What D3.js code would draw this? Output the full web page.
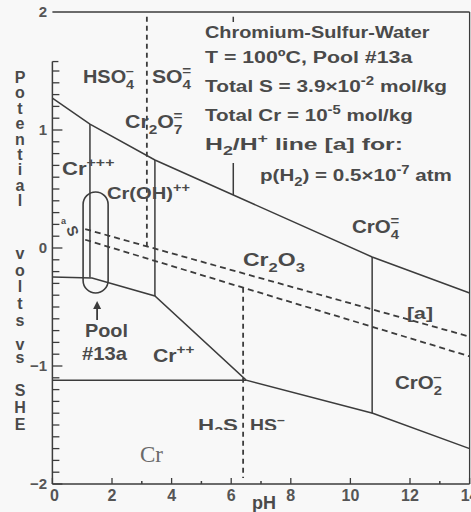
<!DOCTYPE html>
<html><head><meta charset="utf-8">
<script src="https://cdn.jsdelivr.net/npm/d3@7"></script>
<style>html,body{margin:0;padding:0;background:#f8f8f8;}svg{display:block;}</style>
</head><body>
<svg id="c" width="471" height="512"></svg>
<script>
// ---------- data ----------
const pHTicks = [0, 2, 4, 6, 8, 10, 12, 14];
const pHMinorTicks = [3, 5, 7, 13];
const ETicks = [2, 1, 0, -1, -2];
const ETickLabels = ["2", "1", "0", "\u22121", "\u22122"];
// solid phase boundaries [pH, E]
const upperBoundary = [[0, 1.27], [1.26, 1.05], [3.44, 0.746], [10.73, -0.076], [14, -0.381]];
const lowerBoundary = [[0, -0.246], [1.33, -0.254], [3.44, -0.407], [6.5, -1.12], [10.75, -1.40], [14, -1.70]];
const metalBoundary = [[0, -1.12], [6.5, -1.12]];
const verticalBoundaries = [
  {pH: 1.26, top: 1.05, bottom: -0.25},
  {pH: 3.44, top: 0.746, bottom: -0.407},
  {pH: 10.73, top: -0.076, bottom: -1.40},
  {pH: 6.07, top: 1.96, bottom: 0.449}
];
// dashed lines
const lineA = [[1.1, 0.16], [14, -0.751]];
const lineS = [[1.1, 0.07], [14, -0.918]];
const sulfurVerticals = [
  {pH: 3.17, top: 1.96, bottom: -0.017},
  {pH: 6.40, top: -0.336, bottom: -1.95}
];
const pool = {pHmin: 1.03, pHmax: 1.87, Emax: 0.475, Emin: -0.381};
const poolArrow = {pH: 1.5, tip: -0.45, tail: -0.61};
const yTitleWords = ["Potential", "volts", "vs", "SHE"];
const infoLines = [
  [["Chromium-Sulfur-Water", "n"]],
  [["T = 100\u00BAC,  Pool #13a", "n"]],
  [["Total S = 3.9\u00D710", "n"], ["-2", "sup"], [" mol/kg", "n"]],
  [["Total Cr = 10", "n"], ["-5", "sup"], [" mol/kg", "n"]],
  [["H", "n"], ["2", "sub"], ["/H", "n"], ["+", "sup"], [" line [a] for:", "n"]],
  [["p(H", "n"], ["2", "sub"], [") = 0.5\u00D710", "n"], ["-7", "sup"], [" atm", "n"]]
];

// ---------- drawing ----------
const svg = d3.select("#c");
const x = d3.scaleLinear().domain([0, 14]).range([52.4, 469.6]);
const y = d3.scaleLinear().domain([-2, 2]).range([484, 12]);
const INK = "#3c3c3c", TXT = "#4a4a4a", BG = "#f8f8f8";
const FONT = "'Liberation Sans',Arial,Helvetica,sans-serif";
const line = d3.line().x(d => x(d[0])).y(d => y(d[1]));

svg.append("rect").attr("width", 471).attr("height", 512).attr("fill", BG);
svg.append("defs").append("clipPath").attr("id", "cutS")
  .append("rect").attr("x", 190).attr("y", 400).attr("width", 110).attr("height", 30);

// frame: top and right
svg.append("line").attr("x1", x(0)).attr("x2", x(14)).attr("y1", y(2)).attr("y2", y(2))
  .attr("stroke", INK).attr("stroke-width", 1.3);
svg.append("line").attr("x1", x(14)).attr("x2", x(14)).attr("y1", y(2)).attr("y2", y(-2))
  .attr("stroke", INK).attr("stroke-width", 1.3);

// solid boundaries
[upperBoundary, lowerBoundary, metalBoundary].forEach(b =>
  svg.append("path").attr("d", line(b)).attr("fill", "none").attr("stroke", INK).attr("stroke-width", 1.5));
verticalBoundaries.forEach(v =>
  svg.append("line").attr("x1", x(v.pH)).attr("x2", x(v.pH)).attr("y1", y(v.top)).attr("y2", y(v.bottom))
    .attr("stroke", INK).attr("stroke-width", 1.5));

// dashed lines
[lineA, lineS].forEach(b =>
  svg.append("path").attr("d", line(b)).attr("fill", "none").attr("stroke", INK)
    .attr("stroke-width", 1.8).attr("stroke-dasharray", "6,4"));
sulfurVerticals.forEach(v =>
  svg.append("line").attr("x1", x(v.pH)).attr("x2", x(v.pH)).attr("y1", y(v.top)).attr("y2", y(v.bottom))
    .attr("stroke", INK).attr("stroke-width", 1.8).attr("stroke-dasharray", "5,4"));

// text box mask
svg.append("rect").attr("x", 196).attr("y", 22).attr("width", 270).attr("height", 141).attr("fill", BG);

// pool capsule
const pw = x(pool.pHmax) - x(pool.pHmin);
svg.append("rect").attr("x", x(pool.pHmin)).attr("y", y(pool.Emax))
  .attr("width", pw).attr("height", y(pool.Emin) - y(pool.Emax))
  .attr("rx", pw / 2).attr("ry", pw / 2)
  .attr("fill", "none").attr("stroke", INK).attr("stroke-width", 1.6);
svg.append("line").attr("x1", x(poolArrow.pH)).attr("x2", x(poolArrow.pH))
  .attr("y1", y(poolArrow.tail)).attr("y2", y(poolArrow.tip) + 5)
  .attr("stroke", INK).attr("stroke-width", 1.8);
svg.append("path").attr("d", d3.line()([[x(poolArrow.pH) - 4, y(poolArrow.tip) + 8], [x(poolArrow.pH), y(poolArrow.tip)], [x(poolArrow.pH) + 4, y(poolArrow.tip) + 8]]) + "Z")
  .attr("fill", INK);

// left axis
svg.append("line").attr("x1", x(0)).attr("x2", x(0)).attr("y1", y(1.58)).attr("y2", y(-2))
  .attr("stroke", INK).attr("stroke-width", 1.5);
svg.append("line").attr("x1", x(0)).attr("x2", x(0) + 6).attr("y1", y(1.58)).attr("y2", y(1.58))
  .attr("stroke", INK).attr("stroke-width", 1.3);
const minorE = d3.range(15, -21, -1).map(v => v / 10);
svg.append("g").selectAll("line").data(minorE).join("line")
  .attr("x1", x(0)).attr("x2", d => x(0) + (Math.abs(d - Math.round(d)) < 1e-6 ? 10 : 7))
  .attr("y1", d => y(d)).attr("y2", d => y(d)).attr("stroke", INK).attr("stroke-width", 1.3);
svg.append("g").selectAll("text").data(ETicks).join("text")
  .attr("x", 47).attr("y", d => y(d) + 5).attr("text-anchor", "end")
  .attr("font-family", FONT).attr("font-weight", "bold").attr("font-size", 15).attr("fill", "#555")
  .text((d, i) => ETickLabels[i]);

// bottom axis
svg.append("line").attr("x1", x(0)).attr("x2", x(14)).attr("y1", y(-2)).attr("y2", y(-2))
  .attr("stroke", INK).attr("stroke-width", 1.3);
svg.append("g").selectAll("line").data(pHTicks).join("line")
  .attr("x1", d => x(d)).attr("x2", d => x(d)).attr("y1", y(-2)).attr("y2", y(-2) - 6)
  .attr("stroke", INK).attr("stroke-width", 1.3);
svg.append("g").selectAll("line").data(pHMinorTicks).join("line")
  .attr("x1", d => x(d)).attr("x2", d => x(d)).attr("y1", y(-2)).attr("y2", y(-2) - 3)
  .attr("stroke", INK).attr("stroke-width", 1.5);
svg.append("g").selectAll("text").data(pHTicks).join("text")
  .attr("x", d => x(d) + (d === 0 ? 2 : 0)).attr("y", y(-2) + 17).attr("text-anchor", "middle")
  .attr("font-family", FONT).attr("font-weight", "bold").attr("font-size", 16).attr("fill", "#555")
  .text(d => d);
svg.append("text").attr("x", 264).attr("y", 509).attr("text-anchor", "middle")
  .attr("font-family", FONT).attr("font-weight", "bold").attr("font-size", 18).attr("fill", TXT).text("pH");

// y title stacked letters
const wordLayout = [{start: 83, step: 15.4}, {start: 259, step: 16.7}, {start: 350, step: 13}, {start: 396, step: 17}];
yTitleWords.forEach((w, wi) => {
  w.split("").forEach((ch, ci) => {
    svg.append("text").attr("x", 20).attr("y", wordLayout[wi].start + ci * wordLayout[wi].step)
      .attr("text-anchor", "middle").attr("font-family", FONT).attr("font-weight", "bold")
      .attr("font-size", 16).attr("fill", TXT).text(ch);
  });
});

// rich text helper
function rich(px, py, parts, fs, opts = {}) {
  const t = svg.append("text").attr("x", px).attr("y", py).attr("font-size", fs)
    .attr("font-family", opts.family || FONT).attr("font-weight", opts.weight || "bold")
    .attr("fill", opts.fill || TXT).attr("text-anchor", opts.anchor || "start");
  let cur = 0;
  parts.forEach(([s, k]) => {
    const small = fs * 0.72;
    let off = 0;
    if (k === "sub") off = fs * 0.32;
    if (k === "sup" || k === "supstack") off = -fs * 0.42;
    const ts = t.append("tspan").attr("dy", off - cur).text(s);
    if (k !== "n") ts.attr("font-size", small);
    if (k === "supstack") ts.attr("dx", -small * 0.58);
    cur = off;
  });
  if (opts.width) {
    const bw = t.node().getBBox().width;
    const sx = opts.width / bw;
    t.attr("transform", `translate(${px},0) scale(${sx},1) translate(${-px},0)`);
  }
  return t;
}

// info block
const infoX = [205, 205, 205, 205, 205, 260];
const infoY = [38, 63, 92, 121, 150, 181];
const infoW = [225, 208, 242, 208, 198, 192];
infoLines.forEach((parts, i) => rich(infoX[i], infoY[i], parts, 17, {width: infoW[i]}));

// region labels
rich(83, 83, [["HSO", "n"], ["4", "sub"], ["\u2013", "supstack"]], 18, {width: 52});
rich(152, 83, [["SO", "n"], ["4", "sub"], ["=", "supstack"]], 18, {width: 40});
rich(125, 128, [["Cr", "n"], ["2", "sub"], ["O", "n"], ["7", "sub"], ["=", "supstack"]], 18, {width: 58});
rich(62, 175, [["Cr", "n"], ["+++", "sup"]], 18, {width: 53});
rich(107, 199, [["Cr(OH)", "n"], ["++", "sup"]], 17, {width: 83});
rich(352, 233, [["CrO", "n"], ["4", "sub"], ["=", "supstack"]], 18, {width: 48});
rich(243, 266, [["Cr", "n"], ["2", "sub"], ["O", "n"], ["3", "sub"]], 18, {width: 62});
rich(395, 389, [["CrO", "n"], ["2", "sub"], ["\u2013", "supstack"]], 18, {width: 47});
rich(153, 362, [["Cr", "n"], ["++", "sup"]], 18, {width: 42});
rich(198, 431, [["H", "n"], ["2", "sub"], ["S", "n"]], 17, {width: 40}).attr("clip-path", "url(#cutS)");
rich(250, 431, [["HS", "n"], ["\u2013", "sup"]], 17, {width: 35}).attr("clip-path", "url(#cutS)");
rich(407, 319, [["[a]", "n"]], 16, {width: 26});
rich(85, 337, [["Pool", "n"]], 18, {width: 43});
rich(82, 360, [["#13a", "n"]], 18, {width: 46});
rich(140, 462, [["Cr", "n"]], 23, {family: "'Liberation Serif','Times New Roman',serif", weight: "normal", fill: "#6a6a6a"});
// small labels of dashed lines
svg.append("text").attr("x", 61).attr("y", 224).attr("font-family", FONT).attr("font-weight", "bold")
  .attr("font-size", 9).attr("fill", TXT).text("a");
svg.append("text").attr("transform", "translate(66,228) rotate(70)").attr("font-family", FONT)
  .attr("font-weight", "bold").attr("font-size", 15).attr("fill", TXT).text("S");
</script>
</body></html>
